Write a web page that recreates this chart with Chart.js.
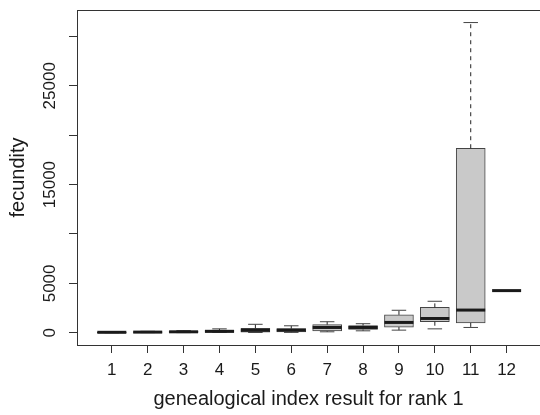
<!DOCTYPE html>
<html>
<head>
<meta charset="utf-8">
<script src="https://cdn.jsdelivr.net/npm/chart.js@4"></script>
<style>
  html, body { margin: 0; padding: 0; background: #fff; }
  #wrap { width: 540px; height: 415px; }
</style>
</head>
<body>
<div id="wrap"><canvas id="boxChart" width="540" height="415"></canvas></div>
<script>
// values (fecundity per genealogical index)
const categories = [1, 2, 3, 4, 5, 6, 7, 8, 9, 10, 11, 12];
const lowerWhisker = [10, 20, 20, 30, 30, 40, 100, 200, 270, 400, 540, 4270];
const lowerQuartile = [20, 40, 50, 30, 60, 100, 180, 330, 580, 1120, 1000, 4270];
const medians = [50, 70, 100, 150, 250, 270, 540, 540, 1050, 1450, 2300, 4270];
const upperQuartile = [80, 100, 150, 250, 450, 420, 820, 740, 1820, 2570, 18680, 4270];
const upperWhisker = [120, 150, 220, 400, 860, 710, 1120, 920, 2280, 3190, 31400, 4270];
const yTicks = [0, 5000, 10000, 15000, 20000, 25000, 30000];
const yLabels = [0, 5000, 15000, 25000];

const FONT = "'Liberation Sans', Arial, sans-serif";
const BOX_W = 29;

const boxData = categories.map((c, i) => ({ x: c, y: [lowerQuartile[i], upperQuartile[i]] }));

// whiskers, caps, medians, top frame line and y labels
const boxExtras = {
    id: 'boxExtras',
    afterDatasetsDraw(chart) {
        const ctx = chart.ctx;
        const xs = chart.scales.x, ys = chart.scales.y;
        ctx.save();
        categories.forEach((c, i) => {
            const px = xs.getPixelForValue(c);
            const yq1 = ys.getPixelForValue(lowerQuartile[i]);
            const yq3 = ys.getPixelForValue(upperQuartile[i]);
            const ylo = ys.getPixelForValue(lowerWhisker[i]);
            const yhi = ys.getPixelForValue(upperWhisker[i]);
            const ymed = ys.getPixelForValue(medians[i]);

            ctx.strokeStyle = '#222';
            ctx.lineWidth = 1;
            ctx.setLineDash([4, 4]);
            ctx.beginPath();
            ctx.moveTo(px, yq3); ctx.lineTo(px, yhi);
            ctx.moveTo(px, yq1); ctx.lineTo(px, ylo);
            ctx.stroke();
            ctx.setLineDash([]);

            if (upperWhisker[i] !== lowerWhisker[i]) {
                ctx.strokeStyle = '#444';
                ctx.beginPath();
                ctx.moveTo(px - BOX_W / 4, yhi); ctx.lineTo(px + BOX_W / 4, yhi);
                ctx.moveTo(px - BOX_W / 4, ylo); ctx.lineTo(px + BOX_W / 4, ylo);
                ctx.stroke();
            }

            ctx.strokeStyle = '#1a1a1a';
            ctx.lineWidth = 3;
            ctx.beginPath();
            ctx.moveTo(px - BOX_W / 2, ymed); ctx.lineTo(px + BOX_W / 2, ymed);
            ctx.stroke();
        });

        const area = chart.chartArea;
        ctx.strokeStyle = '#333';
        ctx.lineWidth = 1;
        ctx.beginPath();
        ctx.moveTo(area.left, area.top + 0.5);
        ctx.lineTo(area.right, area.top + 0.5);
        ctx.stroke();

        ctx.fillStyle = '#1a1a1a';
        ctx.font = '17px ' + FONT;
        ctx.textAlign = 'center';
        ctx.textBaseline = 'middle';
        yLabels.forEach(v => {
            const py = ys.getPixelForValue(v);
            ctx.save();
            ctx.translate(50, py);
            ctx.rotate(-Math.PI / 2);
            ctx.fillText(String(v), 0, 0);
            ctx.restore();
        });
        ctx.restore();
    }
};

var ctx = document.getElementById('boxChart').getContext('2d');
var boxChart = new Chart(ctx, {
    type: 'bar',
    data: {
        datasets: [{
            label: 'fecundity',
            data: boxData,
            backgroundColor: '#c9c9c9',
            borderColor: '#444',
            borderWidth: 1,
            borderSkipped: false,
            barThickness: BOX_W
        }]
    },
    options: {
        responsive: false,
        animation: false,
        events: [],
        layout: { padding: { top: 10, right: 0, bottom: 0, left: 0 } },
        plugins: {
            legend: { display: false },
            tooltip: { enabled: false }
        },
        scales: {
            x: {
                type: 'linear',
                offset: false,
                min: 0.03,
                max: 12.93,
                afterBuildTicks: scale => { scale.ticks = categories.map(v => ({ value: v })); },
                afterFit: scale => { scale.height = 70; },
                grid: { drawOnChartArea: false, offset: false, color: '#333', tickLength: 8 },
                border: { display: true, color: '#333', width: 1 },
                ticks: {
                    color: '#1a1a1a',
                    padding: 7,
                    maxRotation: 0,
                    autoSkip: false,
                    font: { family: FONT, size: 17 },
                    callback: v => String(v)
                },
                title: {
                    display: true,
                    text: 'genealogical index result for rank 1',
                    color: '#1a1a1a',
                    font: { family: FONT, size: 20 },
                    padding: { top: 0, bottom: 4 }
                }
            },
            y: {
                type: 'linear',
                min: -1235,
                max: 32670,
                afterBuildTicks: scale => { scale.ticks = yTicks.map(v => ({ value: v })); },
                afterFit: scale => { scale.width = 77; },
                grid: { drawOnChartArea: false, color: '#333', tickLength: 8 },
                border: { display: true, color: '#333', width: 1 },
                ticks: { display: false },
                title: {
                    display: true,
                    text: 'fecundity',
                    color: '#1a1a1a',
                    font: { family: FONT, size: 20 },
                    padding: { top: 6, bottom: 0 }
                }
            }
        }
    },
    plugins: [boxExtras]
});
</script>
</body>
</html>
